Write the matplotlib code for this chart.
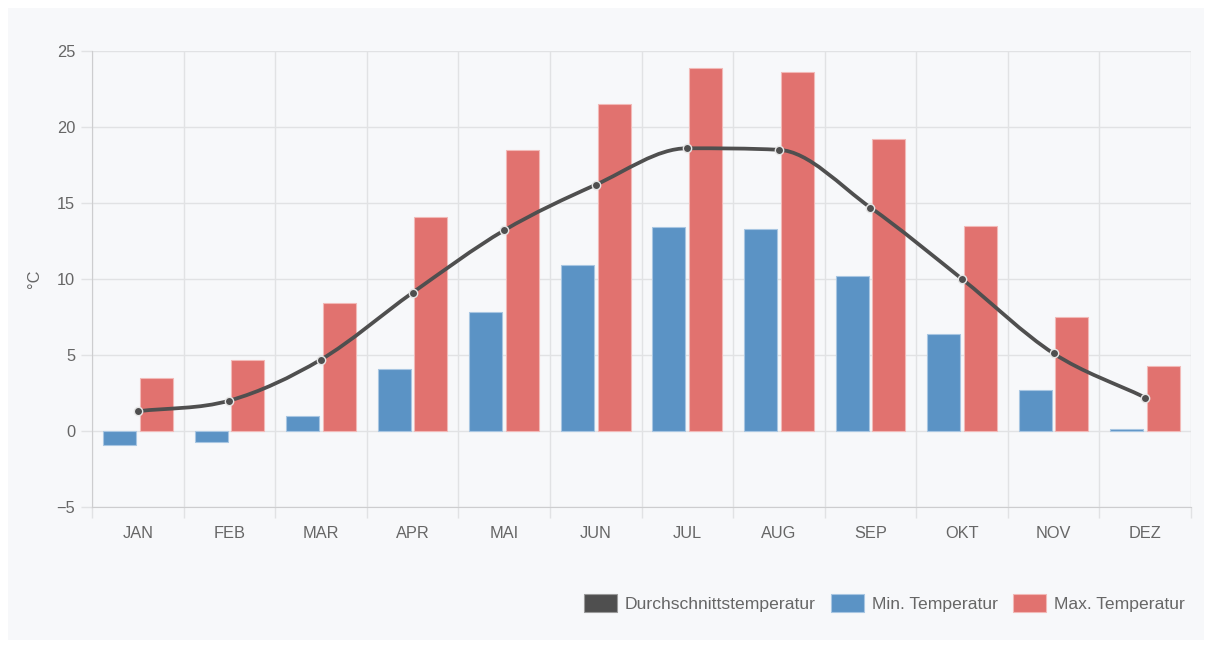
import numpy as np
import matplotlib
matplotlib.use("Agg")
import matplotlib.pyplot as plt
from matplotlib.path import Path
from matplotlib.patches import PathPatch, Rectangle, Patch

# ---------------------------------------------
# DATEN
# ---------------------------------------------

monate = ["JAN", "FEB", "MAR", "APR", "MAI", "JUN",
          "JUL", "AUG", "SEP", "OKT", "NOV", "DEZ"]

temp_min = [-0.9, -0.7, 1.0, 4.1, 7.8, 10.9, 13.4, 13.3, 10.2, 6.4, 2.7, 0.1]
temp_max = [3.5, 4.7, 8.4, 14.1, 18.5, 21.5, 23.9, 23.6, 19.2, 13.5, 7.5, 4.3]
temp_avg = [1.3, 2.0, 4.7, 9.1, 13.2, 16.2, 18.6, 18.5, 14.7, 10.0, 5.1, 2.2]

y_ticks = [-5, 0, 5, 10, 15, 20, 25]

# ---------------------------------------------
# FARBEN
# ---------------------------------------------

c_min = "#5b93c5"
c_min_rand = "#a8c6e2"
c_max = "#e1726f"
c_max_rand = "#f2b9b7"
c_linie = "#4f4f4f"
c_text = "#666666"
c_grid = "#e1e2e4"
c_achse = "#cdcdcf"
c_bg = "#f7f8fa"

plt.rcParams["font.family"] = ["Liberation Sans", "DejaVu Sans"]


# monotone kubische Kurve (wie Chart.js cubicInterpolationMode 'monotone')
def monoton_pfad(xs, ys):
    xs = np.asarray(xs, float)
    ys = np.asarray(ys, float)
    n = len(xs)
    dk = np.diff(ys) / np.diff(xs)
    mk = np.zeros(n)
    mk[0] = dk[0]
    mk[-1] = dk[-1]
    for i in range(1, n - 1):
        if dk[i - 1] == 0 or dk[i] == 0 or np.sign(dk[i - 1]) != np.sign(dk[i]):
            mk[i] = 0
        else:
            mk[i] = (dk[i - 1] + dk[i]) / 2
    for i in range(n - 1):
        if dk[i] == 0:
            mk[i] = mk[i + 1] = 0
            continue
        a = mk[i] / dk[i]
        b = mk[i + 1] / dk[i]
        sq = a * a + b * b
        if sq > 9:
            tau = 3 / np.sqrt(sq)
            mk[i] = a * tau * dk[i]
            mk[i + 1] = b * tau * dk[i]
    verts = [(xs[0], ys[0])]
    codes = [Path.MOVETO]
    for i in range(n - 1):
        dx = (xs[i + 1] - xs[i]) / 3
        verts += [(xs[i] + dx, ys[i] + mk[i] * dx),
                  (xs[i + 1] - dx, ys[i + 1] - mk[i + 1] * dx),
                  (xs[i + 1], ys[i + 1])]
        codes += [Path.CURVE4] * 3
    return Path(verts, codes)


# ---------------------------------------------
# FIGUR
# ---------------------------------------------

W, H = 1212, 648
fig = plt.figure(figsize=(W / 100, H / 100), dpi=100, facecolor="white")

fig.add_artist(Rectangle((8 / W, 8 / H), (W - 16) / W, (H - 16) / H,
                         transform=fig.transFigure, facecolor=c_bg,
                         edgecolor="none", zorder=-10))

ax = fig.add_axes([92 / W, (H - 507) / H, (1191 - 92) / W, (507 - 51) / H])
ax.set_facecolor(c_bg)

x = np.arange(len(monate))
kat = 0.8
bw = kat / 2 * 0.9

ax.bar(x - kat / 4, temp_min, width=bw, color=c_min, edgecolor=c_min_rand,
       linewidth=0.8, zorder=3)
ax.bar(x + kat / 4, temp_max, width=bw, color=c_max, edgecolor=c_max_rand,
       linewidth=0.8, zorder=3)

ax.add_patch(PathPatch(monoton_pfad(x, temp_avg), facecolor="none",
                       edgecolor=c_linie, linewidth=2.7, zorder=4,
                       capstyle="round"))
ax.plot(x, temp_avg, linestyle="none", marker="o", markersize=6,
        markerfacecolor=c_linie, markeredgecolor="#e6e6e6",
        markeredgewidth=1, zorder=5)

# ---------------------------------------------
# ACHSEN
# ---------------------------------------------

ax.set_xlim(-0.5, len(monate) - 0.5)
ax.set_ylim(-5, 25)

ax.set_xticks(x)
ax.set_xticklabels(monate)
ax.set_xticks(np.arange(-0.5, len(monate)), minor=True)
ax.tick_params(axis="x", which="major", length=0, pad=14,
               labelsize=11.8, labelcolor=c_text)
ax.tick_params(axis="x", which="minor", length=8, color=c_grid, width=1)

ax.set_yticks(y_ticks)
ax.tick_params(axis="y", length=8, color=c_grid, width=1, pad=4,
               labelsize=11.8, labelcolor=c_text)

ax.grid(True, axis="x", which="minor", color=c_grid, linewidth=1, zorder=0)
ax.grid(True, axis="y", which="major", color=c_grid, linewidth=1, zorder=0)
ax.grid(False, axis="x", which="major")
ax.set_axisbelow(True)

for s in ["top", "right"]:
    ax.spines[s].set_visible(False)
ax.spines["left"].set_color(c_achse)
ax.spines["bottom"].set_color(c_achse)

ax.set_ylabel("°C", fontsize=11.8, color=c_text)
ax.yaxis.set_label_coords(-50 / 1099, 0.5)

# ---------------------------------------------
# LEGENDE
# ---------------------------------------------

handles = [
    Patch(facecolor=c_linie, edgecolor="#9a9a9a", linewidth=0.8),
    Patch(facecolor=c_min, edgecolor=c_min_rand, linewidth=0.8),
    Patch(facecolor=c_max, edgecolor=c_max_rand, linewidth=0.8),
]
labels = ["Durchschnittstemperatur", "Min. Temperatur", "Max. Temperatur"]

fig.legend(handles, labels, loc="center right",
           bbox_to_anchor=(1192 / W, 1 - 603 / H), ncol=3, frameon=False,
           fontsize=12.6, labelcolor=c_text, handlelength=1.9,
           handleheight=1.15, handletextpad=0.45, columnspacing=0.85,
           borderaxespad=0)

fig.savefig("out.png", dpi=100, facecolor="white")
